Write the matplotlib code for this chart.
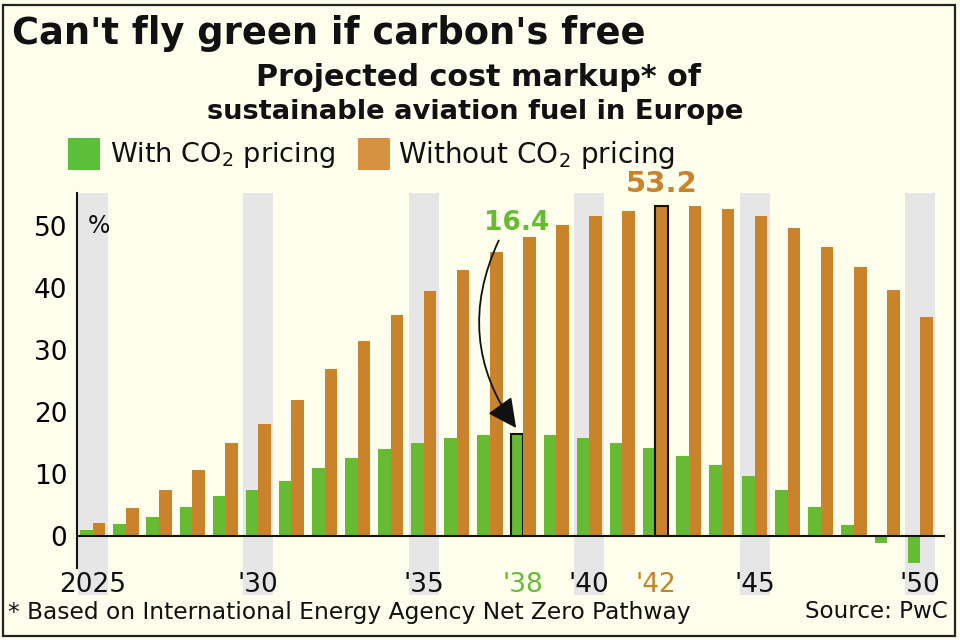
import matplotlib
matplotlib.use("Agg")
import matplotlib.pyplot as plt
from matplotlib.patches import Rectangle, FancyArrowPatch
import matplotlib.transforms as mtransforms

# ---- data ----
years = [2025, 2026, 2027, 2028, 2029, 2030, 2031, 2032, 2033, 2034, 2035, 2036, 2037,
         2038, 2039, 2040, 2041, 2042, 2043, 2044, 2045, 2046, 2047, 2048, 2049, 2050]
with_co2 = [1.0, 1.9, 3.1, 4.6, 6.4, 7.4, 8.9, 10.9, 12.5, 14.0, 15.0, 15.7, 16.2,
            16.4, 16.2, 15.7, 14.9, 14.2, 12.9, 11.4, 9.7, 7.4, 4.6, 1.8, -1.2, -4.4]
without_co2 = [2.1, 4.5, 7.3, 10.6, 14.9, 18.0, 21.9, 26.9, 31.4, 35.6, 39.5, 42.8, 45.7,
               48.1, 50.1, 51.5, 52.4, 53.2, 53.1, 52.6, 51.6, 49.6, 46.6, 43.4, 39.6, 35.3]
band_years = [2025, 2030, 2035, 2040, 2045, 2050]
tick_years = [2025, 2030, 2035, 2038, 2040, 2042, 2045, 2050]
tick_labels = ["2025", "'30", "'35", "'38", "'40", "'42", "'45", "'50"]
y_ticks = [0, 10, 20, 30, 40, 50]
highlight_green_year = 2038
highlight_orange_year = 2042

GREEN = "#66bb33"
ORANGE = "#c8832b"
BG = "#fefeec"
BAND = "#e6e6e6"
INK = "#111111"

plt.rcParams['font.family'] = ["DejaVu Sans"]

W, H = 960, 640
fig = plt.figure(figsize=(9.6, 6.4), dpi=100, facecolor=BG)
renderer = fig.canvas.get_renderer()

def fx(px):
    return px / W

def fy(py):
    return 1 - py / H

def fit(t, target_w):
    bb = t.get_window_extent(renderer=renderer)
    t.set_fontsize(t.get_fontsize() * target_w / bb.width)
    return t

# frame
fig.patches.append(Rectangle((fx(3), fy(636)), fx(955) - fx(3), fy(5) - fy(636),
                             transform=fig.transFigure, fill=False, edgecolor="#222222",
                             linewidth=1.6))

ax = fig.add_axes([fx(77), fy(568), fx(945) - fx(77), fy(192.7) - fy(568)])
ax.set_facecolor(BG)
ax.set_xlim(2024.52, 2050.75)
ax.set_ylim(-5.2, 55.3)

# shaded bands (extend below the axis behind tick labels)
trans = mtransforms.blended_transform_factory(ax.transData, ax.transAxes)
for by in band_years:
    ax.add_patch(Rectangle((by - 0.45, -0.072), 0.9, 1.072, transform=trans,
                           facecolor=BAND, edgecolor="none", clip_on=False, zorder=0))

bw = 0.38
gx = [y - bw / 2 for y in years]
ox = [y + bw / 2 for y in years]
gbars = ax.bar(gx, with_co2, width=bw, color=GREEN, zorder=2)
obars = ax.bar(ox, without_co2, width=bw, color=ORANGE, zorder=2)
for b, y in zip(gbars, years):
    if y == highlight_green_year:
        b.set_edgecolor(INK)
        b.set_linewidth(1.5)
for b, y in zip(obars, years):
    if y == highlight_orange_year:
        b.set_edgecolor(INK)
        b.set_linewidth(1.5)

ax.axhline(0, color=INK, linewidth=1.5, zorder=3)
for s in ["top", "right", "bottom"]:
    ax.spines[s].set_visible(False)
ax.spines["left"].set_color(INK)
ax.spines["left"].set_linewidth(1.5)
ax.spines["left"].set_zorder(4)

ax.set_yticks(y_ticks)
ax.set_yticklabels([str(v) for v in y_ticks])
ax.tick_params(axis="y", length=0, pad=7, labelsize=19)
ax.set_xticks(tick_years)
ax.set_xticklabels(tick_labels)
ax.tick_params(axis="x", length=0, pad=3, labelsize=19)
for lbl, y in zip(ax.get_xticklabels(), tick_years):
    if y == highlight_green_year:
        lbl.set_color(GREEN)
    elif y == highlight_orange_year:
        lbl.set_color(ORANGE)
    else:
        lbl.set_color(INK)

ax.text(2025 - 0.16, 50, "%", fontsize=17, va="center", ha="left", color=INK, zorder=5)

# value labels
gi = years.index(highlight_green_year)
oi = years.index(highlight_orange_year)
ax.text(highlight_green_year - 0.18, 50.4, f"{with_co2[gi]}", color=GREEN, fontsize=19,
        fontweight="bold", ha="center", va="center")
ax.text(highlight_orange_year + bw / 2, 56.7, f"{without_co2[oi]}", color=ORANGE, fontsize=21,
        fontweight="bold", ha="center", va="center", clip_on=False)

arrow = FancyArrowPatch((2037.3, 48.0), (highlight_green_year - bw / 2 + 0.03, with_co2[gi] + 0.6),
                        connectionstyle="arc3,rad=0.3",
                        arrowstyle="-|>,head_length=0.9,head_width=0.45",
                        mutation_scale=20, color=INK, linewidth=1.3, zorder=6)
ax.add_patch(arrow)

# titles
t = fig.text(fx(12), fy(33), "Can't fly green if carbon's free", fontsize=27, fontweight="bold",
             ha="left", va="center", color=INK)
fit(t, 633)
t = fig.text(fx(478), fy(77), "Projected cost markup* of", fontsize=19, fontweight="bold",
             ha="center", va="center", color=INK)
fit(t, 445)
t = fig.text(fx(475), fy(112), "sustainable aviation fuel in Europe", fontsize=19, fontweight="bold",
             ha="center", va="center", color=INK)
fit(t, 540)

# legend
fig.patches.append(Rectangle((fx(68), fy(170)), fx(100) - fx(68), fy(138) - fy(170),
                             transform=fig.transFigure, facecolor="#5cbf3a", edgecolor="none"))
t = fig.text(fx(110), fy(155), "With CO$_2$ pricing", fontsize=18, ha="left", va="center",
             color=INK)
fit(t, 225)
fig.patches.append(Rectangle((fx(358), fy(170)), fx(390) - fx(358), fy(138) - fy(170),
                             transform=fig.transFigure, facecolor="#d4913f", edgecolor="none"))
t = fig.text(fx(398), fy(155), "Without CO$_2$ pricing", fontsize=18, ha="left", va="center",
             color=INK)
fit(t, 277)

# footer
t = fig.text(fx(8), fy(612), "* Based on International Energy Agency Net Zero Pathway", fontsize=15,
             ha="left", va="center", color=INK)
fit(t, 684)
t = fig.text(fx(948), fy(612), "Source: PwC", fontsize=15, ha="right", va="center", color=INK)
fit(t, 143)

fig.savefig("out.png", dpi=100, facecolor=BG)
